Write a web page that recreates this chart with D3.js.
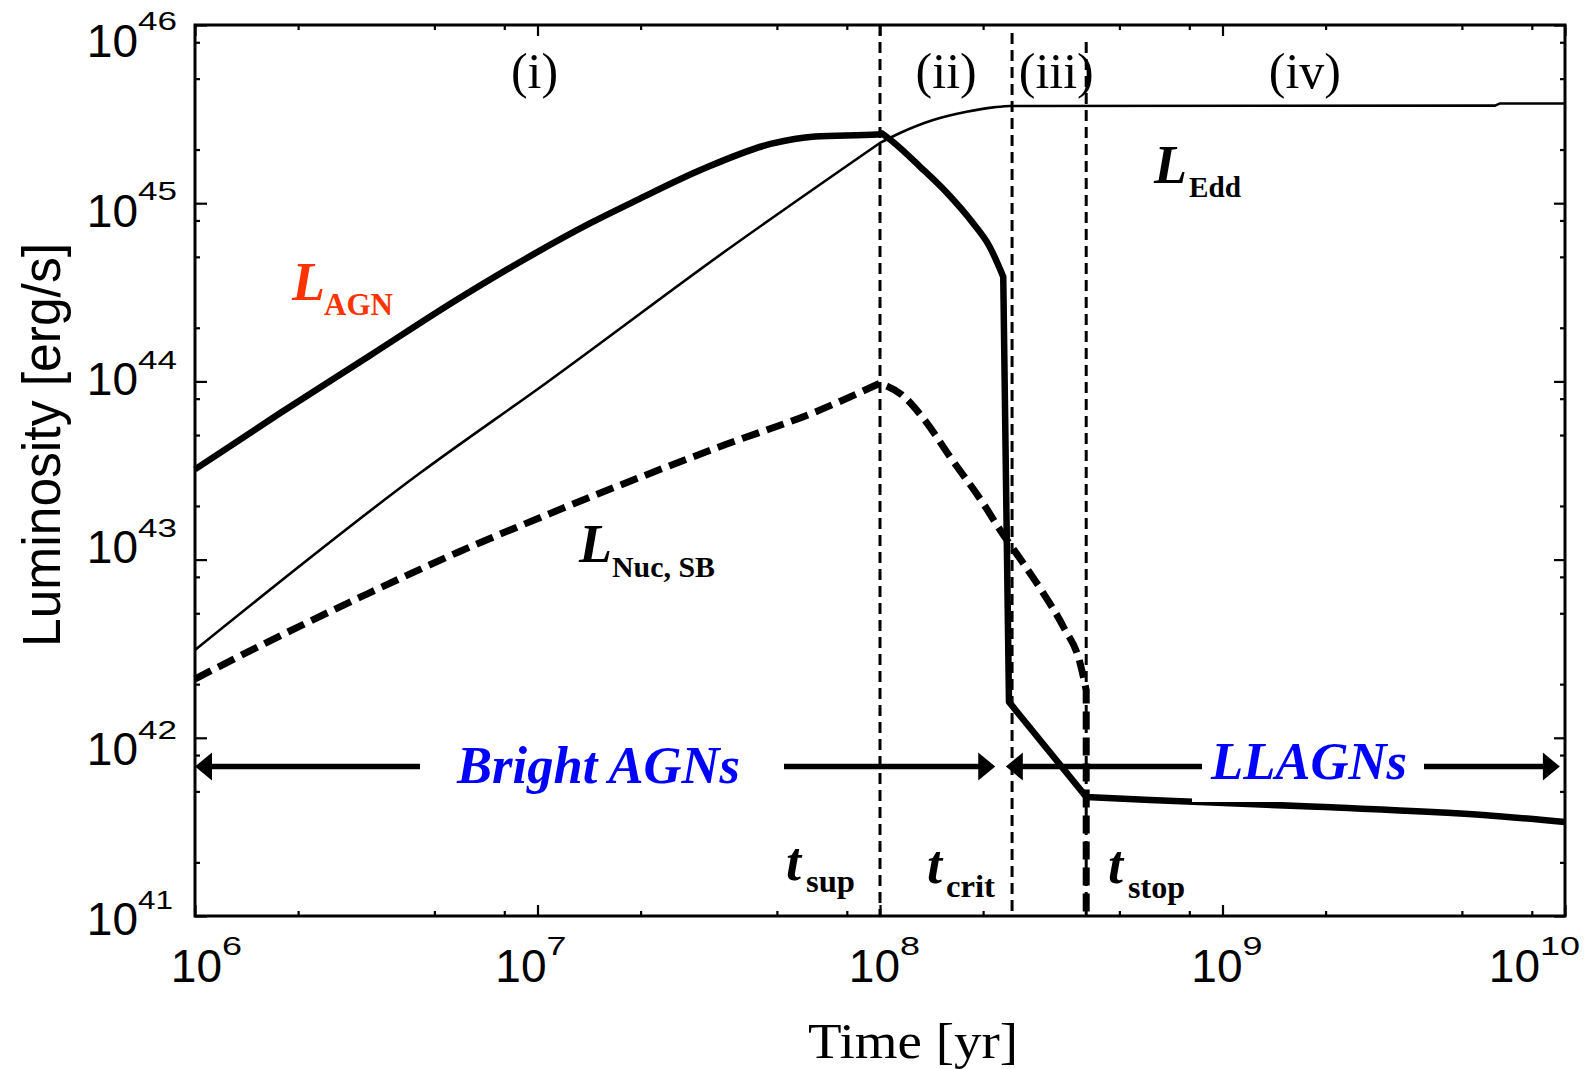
<!DOCTYPE html>
<html><head><meta charset="utf-8">
<script src="https://cdn.jsdelivr.net/npm/d3@7"></script>
<style>html,body{margin:0;padding:0;background:#fff;} svg{display:block;}</style>
</head><body>
<svg id="chart" width="1585" height="1069"></svg>
<script>
// ---------------- data ----------------
const agnTime = [1.0e6, 1.76e6, 3.21e6, 5.86e6, 9.18e6, 1.44e7, 1.95e7, 3.05e7, 4.79e7, 6.46e7, 9.84e7, 1.01e8, 1.09e8, 1.31e8, 1.57e8, 1.87e8, 2.09e8, 2.29e8, 2.38e8, 4.0e8, 6.14e8, 1.89e9, 5.77e9, 1.0e10];
const agnLum  = [3.21e43, 6.58e43, 1.38e44, 2.90e44, 4.85e44, 7.8e44, 1.04e45, 1.56e45, 2.15e45, 2.37e45, 2.43e45, 2.47e45, 2.21e45, 1.60e45, 1.14e45, 7.71e44, 5.70e44, 3.87e44, 1.59e42, 4.66e41, 4.48e41, 4.10e41, 3.69e41, 3.37e41];
const agnCorners = [11, 17, 18, 19];
const eddTime = [1e6, 4.54e6, 1.07e7, 3.54e7, 1e8, 1.14e8, 1.43e8, 1.79e8, 2.14e8, 2.40e8, 6.25e9, 6.46e9, 1e10];
const eddLum  = [3.11e42, 3.06e43, 9.93e43, 5.39e44, 2.18e45, 2.47e45, 2.93e45, 3.26e45, 3.45e45, 3.51e45, 3.53e45, 3.63e45, 3.63e45];
const eddCorners = [4, 9, 10, 11];
const nucTime = [1e6, 1.76e6, 3.21e6, 5.86e6, 1.07e7, 1.95e7, 3.54e7, 6.46e7, 1.0e8, 1.16e8, 1.35e8, 1.60e8, 2.00e8, 2.24e8, 2.62e8, 3.00e8, 3.43e8, 3.84e8, 4.0e8, 4.0e8];
const nucLum  = [2.14e42, 3.71e42, 6.47e42, 1.10e43, 1.79e43, 2.85e43, 4.42e43, 6.73e43, 9.77e43, 8.39e43, 6.07e43, 3.78e43, 2.07e43, 1.47e43, 9.53e42, 6.47e42, 4.20e42, 2.62e42, 1.85e42, 1e41];
const nucCorners = [8, 18];

const phaseTimes = [1e8, 2.43e8, 4.0e8];           // t_sup, t_crit, t_stop
const phaseNames = ["sup", "crit", "stop"];
const regionNames = ["(i)", "(ii)", "(iii)", "(iv)"];
const regionTimes = [9.8e6, 1.56e8, 3.27e8, 1.74e9];
const xMajor = [1e6, 1e7, 1e8, 1e9, 1e10];
const xExp = ["6", "7", "8", "9", "10"];
const yMajor = [1e41, 1e42, 1e43, 1e44, 1e45, 1e46];
const yExp = ["41", "42", "43", "44", "45", "46"];
const arrowLum = 6.9e41;
const brightSpan = [1e6, 2.17e8];
const llagnSpan = [2.33e8, 9.66e9];

// ---------------- layout ----------------
const svg = d3.select("#chart");
svg.append("rect").attr("width",1585).attr("height",1069).attr("fill","#fff");
const x = d3.scaleLog().domain([1e6, 1e10]).range([195, 1565]);
const y = d3.scaleLog().domain([1e41, 1e46]).range([916, 25]);
const minors = (arr) => arr.slice(0, -1).flatMap(d => [2*d, 5*d, 8*d]);
const xMinor = minors(xMajor), yMinor = minors(yMajor);

const sans = "'Liberation Sans', Arial, Helvetica, sans-serif";
const serif = "'Liberation Serif', 'Times New Roman', Times, serif";

function styleAxis(g){ g.select(".domain").remove(); g.selectAll("line").attr("stroke","#000").attr("stroke-width",2.2); }
svg.append("g").attr("transform","translate(0,916)").call(d3.axisBottom(x).tickValues(xMajor).tickSize(-11).tickFormat("")).call(styleAxis);
svg.append("g").attr("transform","translate(0,916)").call(d3.axisBottom(x).tickValues(xMinor).tickSize(-5).tickFormat("")).call(styleAxis);
svg.append("g").attr("transform","translate(0,25)").call(d3.axisTop(x).tickValues(xMajor).tickSize(-11).tickFormat("")).call(styleAxis);
svg.append("g").attr("transform","translate(0,25)").call(d3.axisTop(x).tickValues(xMinor).tickSize(-5).tickFormat("")).call(styleAxis);
svg.append("g").attr("transform","translate(195,0)").call(d3.axisLeft(y).tickValues(yMajor).tickSize(-12).tickFormat("")).call(styleAxis);
svg.append("g").attr("transform","translate(195,0)").call(d3.axisLeft(y).tickValues(yMinor).tickSize(-5).tickFormat("")).call(styleAxis);
svg.append("g").attr("transform","translate(1565,0)").call(d3.axisRight(y).tickValues(yMajor).tickSize(-11).tickFormat("")).call(styleAxis);
svg.append("g").attr("transform","translate(1565,0)").call(d3.axisRight(y).tickValues(yMinor).tickSize(-5).tickFormat("")).call(styleAxis);

// tick labels
const xLabOff = [27, 9, 20, 20, -25];
xMajor.forEach((v,i)=>{
  const xe = x(v) + xLabOff[i];
  svg.append("text").attr("x",xe).attr("y",982).attr("text-anchor","end")
    .attr("font-family",sans).attr("font-size",46).text("10");
  svg.append("text").attr("x",xe).attr("y",955).attr("font-family",sans).attr("font-size",25)
    .attr("textLength", xExp[i].length*20).attr("lengthAdjust","spacingAndGlyphs").text(xExp[i]);
});
const yLabOff = [19, 27.2, 3.4, 13.6, 23.5, 31.7];
yMajor.forEach((v,i)=>{
  const yb = y(v) + yLabOff[i];
  svg.append("text").attr("x",138).attr("y",yb).attr("text-anchor","end")
    .attr("font-family",sans).attr("font-size",46).text("10");
  svg.append("text").attr("x",138).attr("y",yb-26.5).attr("font-family",sans).attr("font-size",25)
    .attr("textLength", yExp[i]==="41"?35:39).attr("lengthAdjust","spacingAndGlyphs").text(yExp[i]);
});

// axis titles
svg.append("text").attr("transform","translate(60,445) rotate(-90)").attr("text-anchor","middle")
  .attr("font-family",sans).attr("font-size",54).attr("textLength",404).attr("lengthAdjust","spacingAndGlyphs")
  .text("Luminosity [erg/s]");
svg.append("text").attr("x",913).attr("y",1058).attr("text-anchor","middle")
  .attr("font-family",serif).attr("font-size",51).attr("textLength",210).attr("lengthAdjust","spacingAndGlyphs")
  .text("Time [yr]");

// phase dashed verticals
const vTop = [25, 33, 42];
phaseTimes.forEach((t,i)=>{
  svg.append("line").attr("x1",x(t)).attr("x2",x(t)).attr("y1",vTop[i]).attr("y2",916)
    .attr("stroke","#000").attr("stroke-width",3).attr("stroke-dasharray","11,6");
});

// curves: smooth pieces between corner points, joined into one path
function piecewisePath(ts, ls, corners){
  const pts = ts.map((t,i)=>[x(t), y(ls[i])]);
  const cuts = [0, ...corners, pts.length-1];
  const smooth = d3.line().curve(d3.curveMonotoneX);
  let d = "";
  for (let k=0; k<cuts.length-1; k++){
    const piece = pts.slice(cuts[k], cuts[k+1]+1);
    let s = piece.length > 2 ? smooth(piece) : d3.line()(piece);
    if (k>0) s = s.replace(/^M[^A-Za-z]*/, "");
    d += s;
  }
  return d;
}
svg.append("path").attr("d",piecewisePath(eddTime, eddLum, eddCorners))
  .attr("fill","none").attr("stroke","#000").attr("stroke-width",2.6).attr("stroke-linejoin","round");
svg.append("path").attr("d",piecewisePath(nucTime, nucLum, nucCorners))
  .attr("fill","none").attr("stroke","#000").attr("stroke-width",7).attr("stroke-dasharray","18,8");
svg.append("path").attr("d",piecewisePath(agnTime, agnLum, agnCorners))
  .attr("fill","none").attr("stroke","#000").attr("stroke-width",6.5).attr("stroke-linejoin","round");

// white box behind LLAGNs label
svg.append("rect").attr("x",1192).attr("y",722).attr("width",258).attr("height",80).attr("fill","#fff");

// frame
svg.append("rect").attr("x",195).attr("y",25).attr("width",1370).attr("height",891)
  .attr("fill","none").attr("stroke","#000").attr("stroke-width",3);

// arrows
const ay = y(arrowLum);
function seg(x1,x2){ svg.append("line").attr("x1",x1).attr("x2",x2).attr("y1",ay).attr("y2",ay).attr("stroke","#000").attr("stroke-width",5.5); }
function head(tip,dir){ // dir -1 points left, +1 points right
  svg.append("path").attr("d",`M${tip},${ay} L${tip-dir*17},${ay-14} L${tip-dir*17},${ay+14} Z`).attr("fill","#000");
}
seg(x(brightSpan[0])+10, 420); seg(784, x(brightSpan[1])-10);
head(x(brightSpan[0]), -1); head(x(brightSpan[1]), 1);
seg(x(llagnSpan[0])+10, 1202); seg(1424, x(llagnSpan[1])-10);
head(x(llagnSpan[0]), -1); head(x(llagnSpan[1]), 1);

const blue = "#0000ff";
svg.append("text").attr("x",457).attr("y",783).attr("font-family",serif).attr("font-size",52)
  .attr("font-weight","bold").attr("font-style","italic").attr("fill",blue)
  .attr("textLength",283).attr("lengthAdjust","spacingAndGlyphs").text("Bright AGNs");
svg.append("text").attr("x",1211).attr("y",779).attr("font-family",serif).attr("font-size",52)
  .attr("font-weight","bold").attr("font-style","italic").attr("fill",blue)
  .attr("textLength",196).attr("lengthAdjust","spacingAndGlyphs").text("LLAGNs");

// region labels
regionNames.forEach((s,i)=>{
  svg.append("text").attr("x",x(regionTimes[i])).attr("y",88).attr("text-anchor","middle")
    .attr("font-family",serif).attr("font-size",50).text(s);
});

// curve labels
function sym(xL, yL, sub, xS, yS, wS, color, subSize){
  svg.append("text").attr("x",xL).attr("y",yL).attr("font-family",serif).attr("font-size",54)
    .attr("font-weight","bold").attr("font-style","italic").attr("fill",color).text("L");
  svg.append("text").attr("x",xS).attr("y",yS).attr("font-family",serif).attr("font-size",subSize)
    .attr("font-weight","bold").attr("fill",color)
    .attr("textLength",wS).attr("lengthAdjust","spacingAndGlyphs").text(sub);
}
sym(292, 300, "AGN", 324, 315, 69, "#ff3300", 31);
sym(579, 562, "Nuc, SB", 612, 577, 103, "#000", 30);
sym(1154, 183, "Edd", 1189, 197, 52, "#000", 30);

// t labels
const tPos = [{tx:786, ty:880, sx:806, sy:892, w:49},
              {tx:927, ty:883, sx:946, sy:897, w:49},
              {tx:1108, ty:883, sx:1128, sy:898, w:57}];
phaseNames.forEach((n,i)=>{
  const p = tPos[i];
  svg.append("text").attr("x",p.tx).attr("y",p.ty).attr("font-family",serif).attr("font-size",54)
    .attr("font-weight","bold").attr("font-style","italic").text("t");
  svg.append("text").attr("x",p.sx).attr("y",p.sy).attr("font-family",serif).attr("font-size",32)
    .attr("font-weight","bold").attr("textLength",p.w).attr("lengthAdjust","spacingAndGlyphs").text(n);
});
</script>
</body></html>
